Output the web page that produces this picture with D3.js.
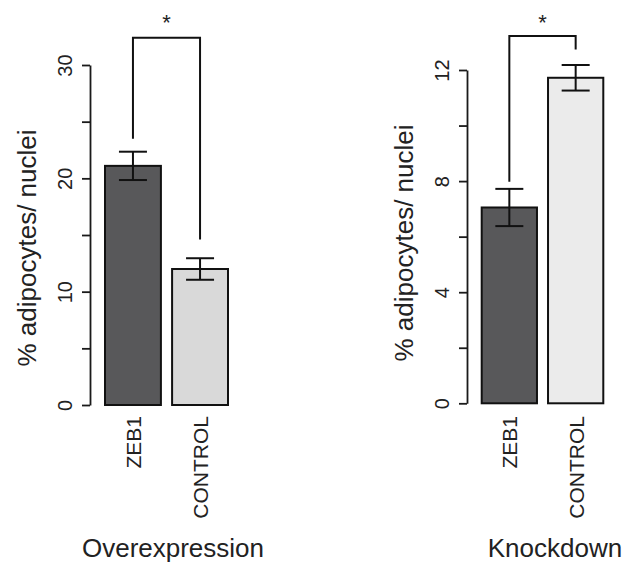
<!DOCTYPE html>
<html>
<head>
<meta charset="utf-8">
<script src="https://cdn.jsdelivr.net/npm/d3@7"></script>
<style>
  body { margin: 0; background: #fff; }
  text { font-family: "Liberation Sans", Arial, sans-serif; fill: #222; }
</style>
</head>
<body>
<svg width="636" height="567"></svg>
<script>
// data
var categories = ["ZEB1", "CONTROL"];
var overMeans = [21.1, 12.0];
var overErr = [1.25, 0.95];
var overTicks = [0, 5, 10, 15, 20, 25, 30];
var overLabels = [0, 10, 20, 30];
var overBracket = [23.5, 32.4, 14.6]; // left leg end, top, right leg end

var knockMeans = [7.05, 11.72];
var knockErr = [0.67, 0.46];
var knockTicks = [0, 2, 4, 6, 8, 10, 12];
var knockLabels = [0, 4, 8, 12];
var knockBracket = [7.98, 13.22, 12.74];

var yTitle = "% adipocytes/ nuclei";

var svg = d3.select("svg");

var panels = [
  { title: "Overexpression", means: overMeans, err: overErr, ticks: overTicks, labels: overLabels,
    bracket: overBracket, domain: [0, 30], yRange: [405, 65], xRange: [105, 228], axisX: 90,
    fills: ["#58585a", "#d9d9d9"], titleX: 173, yTitleX: 36, yTitleY: 248 },
  { title: "Knockdown", means: knockMeans, err: knockErr, ticks: knockTicks, labels: knockLabels,
    bracket: knockBracket, domain: [0, 12], yRange: [403.3, 70], xRange: [481.7, 603.3], axisX: 467,
    fills: ["#58585a", "#ebebeb"], titleX: 555, yTitleX: 413, yTitleY: 243 }
];

panels.forEach(function(p) {
  var y = d3.scaleLinear().domain(p.domain).range(p.yRange);
  var x = d3.scaleBand().domain(categories).range(p.xRange).paddingInner(0.2 / 1.2).paddingOuter(0);
  var g = svg.append("g");

  // y axis, R style
  var ax = g.append("g")
    .attr("transform", "translate(" + p.axisX + ",0)")
    .call(d3.axisLeft(y).tickValues(p.ticks).tickSize(8).tickSizeOuter(0)
      .tickFormat(function(d) { return p.labels.indexOf(d) >= 0 ? d : ""; }));
  ax.select(".domain").attr("stroke", "#1a1a1a").attr("stroke-width", 1.8);
  ax.selectAll(".tick line").attr("stroke", "#1a1a1a").attr("stroke-width", 1.8);
  ax.selectAll(".tick text")
    .attr("transform", "rotate(-90)")
    .attr("x", 0).attr("y", -18).attr("dy", 0)
    .attr("text-anchor", "middle")
    .style("font-size", "20px").style("fill", "#222");

  // y title
  g.append("text")
    .attr("transform", "translate(" + p.yTitleX + "," + p.yTitleY + ") rotate(-90)")
    .attr("text-anchor", "middle")
    .style("font-size", "26px")
    .text(yTitle);

  // bars
  g.selectAll("rect.bar").data(p.means).enter().append("rect")
    .attr("class", "bar")
    .attr("x", function(d, i) { return x(categories[i]); })
    .attr("width", x.bandwidth())
    .attr("y", function(d) { return y(d); })
    .attr("height", function(d) { return y(0) - y(d); })
    .attr("fill", function(d, i) { return p.fills[i]; })
    .attr("stroke", "#111").attr("stroke-width", 2);

  // error bars
  var capW = 14;
  p.means.forEach(function(m, i) {
    var cx = x(categories[i]) + x.bandwidth() / 2;
    var hi = y(m + p.err[i]), lo = y(m - p.err[i]);
    g.append("line").attr("x1", cx).attr("x2", cx).attr("y1", hi).attr("y2", lo)
      .attr("stroke", "#111").attr("stroke-width", 2);
    [hi, lo].forEach(function(yy) {
      g.append("line").attr("x1", cx - capW).attr("x2", cx + capW).attr("y1", yy).attr("y2", yy)
        .attr("stroke", "#111").attr("stroke-width", 2);
    });
  });

  // significance bracket
  var bx0 = x(categories[0]) + x.bandwidth() / 2;
  var bx1 = x(categories[1]) + x.bandwidth() / 2;
  g.append("path")
    .attr("d", "M" + bx0 + "," + y(p.bracket[0]) + "V" + y(p.bracket[1]) + "H" + bx1 + "V" + y(p.bracket[2]))
    .attr("fill", "none").attr("stroke", "#111").attr("stroke-width", 2);
  g.append("text")
    .attr("x", (bx0 + bx1) / 2).attr("y", 30)
    .attr("text-anchor", "middle")
    .style("font-size", "22px")
    .text("*");

  // category labels
  g.selectAll("text.cat").data(categories).enter().append("text")
    .attr("class", "cat")
    .attr("transform", function(d) {
      return "translate(" + (x(d) + x.bandwidth() / 2 + 8) + ",416) rotate(-90)";
    })
    .attr("text-anchor", "end")
    .style("font-size", "21px")
    .text(function(d) { return d; });

  // panel title
  g.append("text")
    .attr("x", p.titleX).attr("y", 557)
    .attr("text-anchor", "middle")
    .style("font-size", "26px")
    .text(p.title);
});
</script>
</body>
</html>
